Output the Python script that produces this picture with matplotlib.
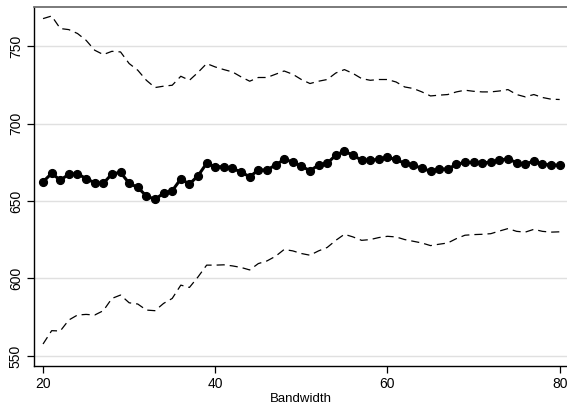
import matplotlib.pyplot as plt
import numpy as np

plt.rcParams['font.family'] = ['Liberation Sans', 'DejaVu Sans']

# bandwidth grid and estimates with upper / lower bands
bandwidth = np.arange(20, 81)
estimate = [662.4, 667.8, 663.5, 667.2, 667.6, 664.4, 661.8, 661.4, 667.4, 668.5,
            661.4, 658.8, 653.2, 651.1, 655.0, 656.6, 664.2, 660.9, 666.3, 674.3,
            672.1, 672.1, 671.0, 668.7, 665.6, 670.0, 670.0, 673.2, 676.8, 675.3,
            672.5, 669.5, 673.2, 674.3, 679.6, 682.2, 679.4, 676.4, 676.4, 676.8,
            678.1, 676.8, 674.3, 673.2, 671.0, 669.3, 670.6, 670.6, 673.6, 674.9,
            674.9, 674.7, 674.9, 676.4, 677.2, 674.7, 673.6, 675.9, 673.6, 673.4,
            673.0]
upper = [767.7, 769.4, 761.3, 760.6, 758.1, 753.7, 747.3, 744.5, 746.6, 746.2,
         738.7, 734.4, 727.9, 723.2, 724.1, 724.7, 730.5, 727.9, 733.0, 738.7,
         736.5, 734.8, 733.3, 730.1, 727.3, 729.7, 729.7, 731.8, 733.9, 731.8,
         728.4, 725.8, 727.3, 728.4, 732.6, 734.8, 732.3, 729.0, 727.9, 728.4,
         728.4, 726.8, 723.6, 722.6, 720.4, 717.8, 718.3, 718.7, 720.4, 721.5,
         720.8, 720.4, 720.4, 721.0, 721.9, 718.7, 717.2, 718.7, 716.8, 715.7,
         715.5]
lower = [557.7, 566.3, 566.1, 573.2, 576.4, 576.8, 576.4, 579.2, 587.1, 589.3,
         584.3, 583.5, 579.6, 579.2, 583.9, 587.1, 595.7, 594.2, 601.0, 608.6,
         608.6, 608.8, 608.1, 607.1, 605.5, 609.6, 611.3, 614.3, 618.7, 617.8,
         616.1, 615.0, 617.8, 620.0, 624.6, 628.5, 626.8, 624.6, 625.1, 626.4,
         627.2, 626.8, 625.1, 624.0, 622.9, 621.2, 622.1, 622.9, 625.7, 627.9,
         628.3, 628.5, 628.9, 630.6, 632.2, 630.4, 629.9, 631.7, 630.4, 629.9,
         630.1]

fig = plt.figure(figsize=(5.67, 4.09), dpi=100)
ax = fig.add_axes([34 / 567, 43 / 409, 1 - 34 / 567, 359 / 409])

ax.plot(bandwidth, upper, color='black', lw=0.9, dashes=(6.5, 4))
ax.plot(bandwidth, lower, color='black', lw=0.9, dashes=(6.5, 4))
ax.plot(bandwidth, estimate, color='black', lw=2.2, marker='o', ms=5.6)

ax.set_xlim(18.95, 80.85)
ax.set_ylim(543.5, 775.2)
ax.set_xticks([20, 40, 60, 80])
ax.set_yticks([550, 600, 650, 700, 750])
ax.set_yticklabels(['550', '600', '650', '700', '750'], rotation=90, va='center')
ax.grid(axis='y', color='#e0e0e0', lw=1)
ax.set_axisbelow(True)
ax.tick_params(labelsize=10, length=5, width=0.9, pad=3)
ax.set_xlabel('Bandwidth', fontsize=9.5, labelpad=1)

ax.spines['right'].set_visible(False)
ax.spines['top'].set_color('#707070')
ax.spines['top'].set_linewidth(1.3)
ax.spines['left'].set_linewidth(1.0)
ax.spines['bottom'].set_linewidth(1.0)

fig.savefig('out.png', dpi=100)
